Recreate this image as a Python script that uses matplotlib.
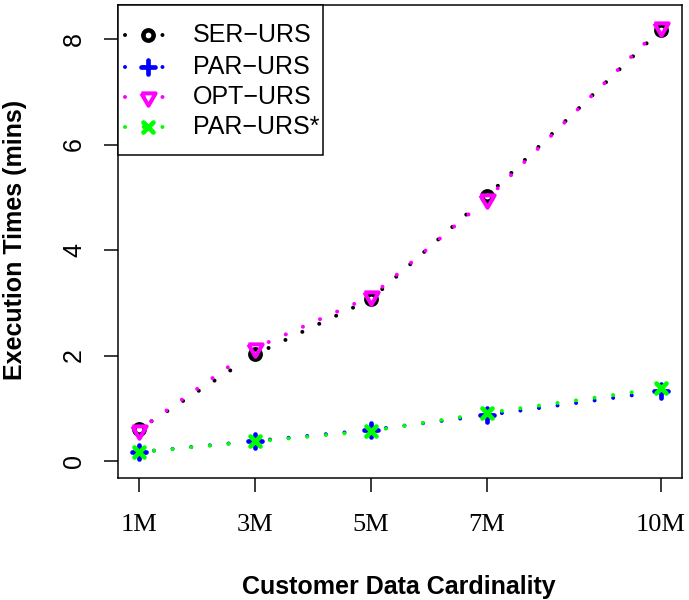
import matplotlib
matplotlib.use("Agg")
import matplotlib.pyplot as plt
from matplotlib.markers import MarkerStyle
from matplotlib.patches import Rectangle
import numpy as np

# ---- data ----
x_vals = [1, 3, 5, 7, 10]
x_labels = ["1M", "3M", "5M", "7M", "10M"]
y_ticks = [0, 2, 4, 6, 8]
ser_urs = [0.60, 2.02, 3.07, 5.02, 8.18]
par_urs = [0.17, 0.38, 0.59, 0.87, 1.32]
opt_urs = [0.59, 2.14, 3.12, 4.97, 8.22]
par_urs_star = [0.17, 0.37, 0.57, 0.91, 1.38]
series_names = ["SER\u2212URS", "PAR\u2212URS", "OPT\u2212URS", "PAR\u2212URS*"]

DPI = 100
PX = 72.0 / DPI  # points per pixel
SANS = ["Liberation Sans", "DejaVu Sans"]
SERIF = ["Liberation Serif", "DejaVu Serif"]

fig = plt.figure(figsize=(6.89, 6.0), dpi=DPI)
ax = fig.add_axes([118 / 689, 1 - 478 / 600, (682 - 118) / 689, (478 - 5) / 600])
ax.set_xlim(0.638, 10.362)
ax.set_ylim(-0.322, 8.645)

tri_down = [(-1, 0.5774), (1, 0.5774), (0, -1.1547), (-1, 0.5774)]

styles = [
    dict(color="black", marker=MarkerStyle("o", fillstyle="none"), ms=10.3 * PX, mew=4.5 * PX),
    dict(color="#0000FF", marker=MarkerStyle("+", capstyle="round"), ms=13.6 * PX, mew=4.7 * PX),
    dict(color="#FF00FF", marker=MarkerStyle(tri_down, fillstyle="none", joinstyle="round"), ms=16.5 * PX, mew=4.0 * PX),
    dict(color="#00FF00", marker=MarkerStyle("x", capstyle="round"), ms=9.5 * PX, mew=4.7 * PX),
]
data = [ser_urs, par_urs, opt_urs, par_urs_star]

LW = 4.0 * PX
DOT = (0, (0.01, 4.67))
GAP = 15.0  # px gap around points (R type="b")

to_disp = ax.transData.transform
to_data = ax.transData.inverted().transform

for k, (vals, st) in enumerate(zip(data, styles)):
    z = 2 + k
    pts = to_disp(np.column_stack([x_vals, vals]))
    for i in range(len(pts) - 1):
        p0, p1 = pts[i], pts[i + 1]
        d = p1 - p0
        L = np.hypot(*d)
        u = d / L
        a = to_data(p0 + u * GAP)
        b = to_data(p1 - u * GAP)
        ax.plot([a[0], b[0]], [a[1], b[1]], color=st["color"], lw=LW, linestyle=DOT,
                dash_capstyle="round", zorder=z)
    ax.plot(x_vals, vals, linestyle="none", marker=st["marker"], ms=st["ms"],
            mew=st["mew"], mec=st["color"], mfc="none", zorder=z + 0.5)

# axes styling
for s in ax.spines.values():
    s.set_linewidth(1.5 * PX)
ax.set_xticks(x_vals)
ax.set_xticklabels(x_labels, fontfamily=SERIF, fontsize=19)
ax.set_yticks(y_ticks)
ax.set_yticklabels([str(t) for t in y_ticks], fontfamily=SANS, fontsize=18,
                   rotation=90, ha="center", va="center")
ax.tick_params(axis="both", direction="out", length=14 * PX, width=1.5 * PX, color="black")
ax.tick_params(axis="x", pad=22 * PX)
ax.tick_params(axis="y", pad=30 * PX)

# axis titles
fig.text(399 / 689, 1 - 594 / 600, "Customer Data Cardinality", ha="center", va="baseline",
         fontfamily=SANS, fontsize=18, fontweight="bold")
fig.text(22.5 / 689, 1 - 240 / 600, "Execution Times (mins)", ha="center", va="baseline",
         rotation=90, rotation_mode="anchor", fontfamily=SANS, fontsize=18, fontweight="bold")

# legend (R-style box)
def ax_x(px):
    return (px - 118) / 564.0

def ax_y(py):
    return (478 - py) / 473.0

ax.add_patch(Rectangle((0, ax_y(155)), ax_x(323), 1 - ax_y(155), transform=ax.transAxes,
                       facecolor="white", edgecolor="black", lw=1.5 * PX, zorder=20, clip_on=False))
rows = [35, 67, 97, 127]
for name, st, ry in zip(series_names, styles, rows):
    ax.plot([ax_x(125), ax_x(171)], [ax_y(ry), ax_y(ry)], transform=ax.transAxes, color=st["color"],
            lw=LW, linestyle=DOT, dash_capstyle="round", zorder=21, clip_on=False)
    ax.plot([ax_x(148)], [ax_y(ry)], transform=ax.transAxes, linestyle="none", marker=st["marker"],
            ms=st["ms"], mew=st["mew"], mec=st["color"], mfc="none", zorder=22, clip_on=False)
    ax.text(ax_x(193), ax_y(ry), name, transform=ax.transAxes, ha="left", va="center",
            fontfamily=SANS, fontsize=18, zorder=23)

fig.savefig("out.png", dpi=DPI)
